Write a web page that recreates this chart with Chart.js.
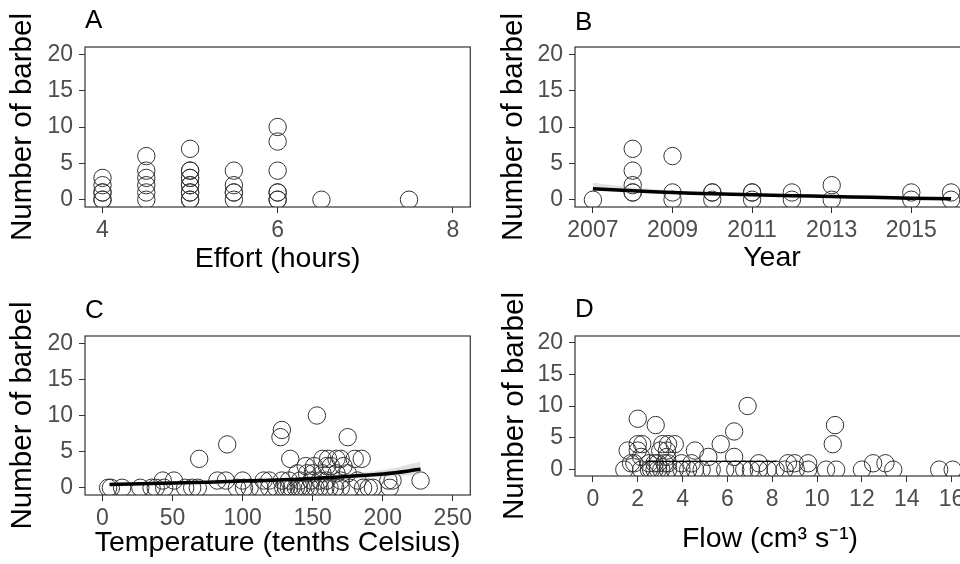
<!DOCTYPE html>
<html>
<head>
<meta charset="utf-8">
<script src="https://cdn.jsdelivr.net/npm/chart.js@4/dist/chart.umd.min.js"></script>
<style>
  body { margin: 0; width: 960px; height: 564px; overflow: hidden; background: #fff; position: relative; }
  canvas { position: absolute; }
</style>
</head>
<body>
<canvas id="chartA" width="480" height="282" style="left:0;top:0"></canvas>
<canvas id="chartB" width="500" height="282" style="left:480px;top:0"></canvas>
<canvas id="chartC" width="480" height="282" style="left:0;top:282px"></canvas>
<canvas id="chartD" width="500" height="282" style="left:480px;top:282px"></canvas>
<script>
// shared y axis
var countTicks = [0, 5, 10, 15, 20];

// A - effort
var effortHours = [4,4,4,4,4,4, 4.5,4.5,4.5,4.5,4.5,4.5, 5,5,5,5,5,5,5,5,5,5,5, 5.5,5.5,5.5,5.5,5.5, 6,6,6,6,6,6,6, 6.5, 7.5];
var barbelA     = [0,1,2,3,0,1, 0,1,2,3,4,6, 0,1,2,3,4,7,0,1,2,3,4, 0,1,2,4,1, 0,1,4,8,10,0,1, 0, 0];
var effortTicks = [4, 6, 8];

// B - year
var yearB   = [2007, 2008,2008,2008,2008,2008, 2009,2009,2009, 2010,2010,2010, 2011,2011,2011, 2012,2012, 2013,2013, 2015,2015, 2016,2016];
var barbelB = [0, 1,1,2,4,7, 0,1,6, 0,1,1, 0,1,1, 0,1, 0,2, 0,1, 0,1];
var yearTicks = [2007, 2009, 2011, 2013, 2015];
var yearFit  = [2007, 2008, 2009, 2010, 2011, 2012, 2013, 2014, 2015, 2016];
var fitB     = [1.5, 1.22, 1.0, 0.82, 0.68, 0.56, 0.45, 0.33, 0.22, 0.14];
var fitBHigh = [2.35, 1.7, 1.25, 0.98, 0.82, 0.7, 0.6, 0.5, 0.42, 0.36];
var fitBLow  = [1.25, 1.05, 0.9, 0.75, 0.62, 0.5, 0.38, 0.26, 0.15, 0.06];

// C - temperature
var tempC = [89,69,128,127,153,175,134,185,180,157,161,167,170,
  145,151,163,172,160,
  139,146,157,167,175,150,
  43,51,82,88,100,115,119,128,133,141,149,170,182,204,207,227,160,155,
  4,6,14,27,35,38,44,59,64,68,96,101,105,112,119,124,129,131,133,135,138,140,142,145,148,152,155,159,162,166,170,177,186,190,193,205];
var barbelC = [6,4,8,7,10,7,4,4,4,4,4,4,4,
  3,3,3,3,3,
  2,2,2,2,2,2,
  1,1,1,1,1,1,1,1,1,1,1,1,1,1,1,1,1,1,
  0,0,0,0,0,0,0,0,0,0,0,0,0,0,0,0,0,0,0,0,0,0,0,0,0,0,0,0,0,0,0,0,0,0,0,0];
var tempTicks = [0, 50, 100, 150, 200, 250];
var tempFit  = [5, 50, 100, 150, 200, 227];
var fitC     = [0.47, 0.66, 0.92, 1.3, 1.9, 2.55];
var fitCHigh = [0.7, 0.8, 1.05, 1.5, 2.45, 3.6];
var fitCLow  = [0.3, 0.5, 0.8, 1.15, 1.5, 1.85];

// D - flow
var flowD = [2.0,2.8,6.9,6.3,5.7,10.8,10.7,
  2.0,2.2,3.1,3.35,3.65,
  1.55,2.0,3.0,3.3,4.55,
  2.15,3.3,5.15,6.3,
  1.7,1.85,2.75,3.35,3.95,4.4,7.4,8.7,9.0,9.6,12.5,13.05,2.5,2.9,3.2,
  1.4,2.15,2.5,2.75,3.05,3.35,3.65,3.95,4.25,4.55,4.85,5.3,5.9,6.35,6.75,7.05,7.4,7.8,8.15,8.55,9.05,9.6,10.4,10.85,12.0,13.4,15.45,16.05,2.6,2.9];
var barbelD = [8,7,10,6,4,7,4,
  4,4,4,4,4,
  3,3,3,3,3,
  2,2,2,2,
  1,1,1,1,1,1,1,1,1,1,1,1,1,1,1,
  0,0,0,0,0,0,0,0,0,0,0,0,0,0,0,0,0,0,0,0,0,0,0,0,0,0,0,0,0,0];
var flowTicks = [0, 2, 4, 6, 8, 10, 12, 14, 16];
var flowFit = [2.4, 8.2];
var fitD    = [1.3, 1.3];

var FONT = 'Liberation Sans, Arial, sans-serif';
Chart.defaults.font.family = FONT;

function pts(xs, ys) {
  return xs.map(function (x, i) { return {x: x, y: ys[i]}; });
}

var panelBox = {
  id: 'panelBox',
  afterDatasetsDraw: function (chart) {
    var a = chart.chartArea, c = chart.ctx;
    c.save();
    c.strokeStyle = '#333';
    c.lineWidth = 1.2;
    c.strokeRect(a.left, a.top, a.right - a.left, a.bottom - a.top);
    c.restore();
  }
};

function scatterSet(xs, ys) {
  return {
    type: 'scatter', data: pts(xs, ys),
    pointRadius: 8.7, pointBorderWidth: 1, pointBorderColor: '#333',
    pointBackgroundColor: 'rgba(0,0,0,0)'
  };
}

function fitSets(xs, fit, high, low, width) {
  var sets = [{
    type: 'line', data: pts(xs, fit), borderColor: '#000', borderWidth: width,
    pointRadius: 0, tension: 0.3, fill: false
  }];
  if (high) {
    sets.push({type: 'line', data: pts(xs, high), borderWidth: 0, pointRadius: 0, tension: 0.3,
      backgroundColor: 'rgba(170,170,170,0.35)', fill: '+1'});
    sets.push({type: 'line', data: pts(xs, low), borderWidth: 0, pointRadius: 0, tension: 0.3, fill: false});
  }
  return sets;
}

function makePanel(id, p) {
  var tickGrid = {drawOnChartArea: false, drawTicks: true, tickLength: 6, color: '#333', lineWidth: 1};
  new Chart(document.getElementById(id), {
    type: 'scatter',
    data: {datasets: p.datasets},
    plugins: [panelBox],
    options: {
      responsive: false,
      animation: false,
      layout: {padding: {left: 0, right: p.rightPad, top: 0, bottom: 0}},
      plugins: {
        legend: {display: false},
        tooltip: {enabled: false},
        title: {
          display: true, text: p.letter, align: 'start', fullSize: false, color: '#000',
          font: {size: 26, weight: 'normal'}, padding: {top: p.letterTop, bottom: p.letterBottom}
        }
      },
      scales: {
        x: {
          type: 'linear', min: p.xMin, max: p.xMax,
          afterBuildTicks: function (s) { s.ticks = p.xTicks.map(function (v) { return {value: v}; }); },
          afterFit: function (s) { s.height = p.xAxisHeight; s.paddingLeft = 0; s.paddingRight = 0; },
          grid: tickGrid,
          border: {display: false},
          ticks: {color: '#4d4d4d', font: {size: 23}, padding: 4, maxRotation: 0, autoSkip: false,
            callback: function (v) { return String(v); }},
          title: {display: true, text: p.xTitle, color: '#000', font: {size: 28.5},
            padding: {top: 0, bottom: p.xTitlePad}}
        },
        y: {
          type: 'linear', min: -1, max: 21,
          afterBuildTicks: function (s) { s.ticks = countTicks.map(function (v) { return {value: v}; }); },
          afterFit: function (s) { s.width = p.yAxisWidth; s.paddingTop = 0; s.paddingBottom = 0; },
          grid: tickGrid,
          border: {display: false},
          ticks: {color: '#4d4d4d', font: {size: 23}, padding: 6,
            callback: function (v) { return String(v); }},
          title: {display: true, text: 'Number of barbel', color: '#000', font: {size: 29.5},
            padding: {top: p.yTitlePad, bottom: 0}}
        }
      }
    }
  });
}

makePanel('chartA', {
  letter: 'A', letterTop: 5.4, letterBottom: 10.4,
  xTitle: 'Effort (hours)', xMin: 3.8, xMax: 8.2, xTicks: effortTicks,
  xAxisHeight: 75, yAxisWidth: 85, rightPad: 2, xTitlePad: 6, yTitlePad: 5.3,
  datasets: [scatterSet(effortHours, barbelA)]
});

makePanel('chartB', {
  letter: 'B', letterTop: 6.9, letterBottom: 8.9,
  xTitle: 'Year', xMin: 2006.55, xMax: 2016.45, xTicks: yearTicks,
  xAxisHeight: 75, yAxisWidth: 95, rightPad: 11, xTitlePad: 7, yTitlePad: 16.3,
  datasets: fitSets(yearFit, fitB, fitBHigh, fitBLow, 3.5).concat([scatterSet(yearB, barbelB)])
});

makePanel('chartC', {
  letter: 'C', letterTop: 13.6, letterBottom: 9.2,
  xTitle: 'Temperature (tenths Celsius)', xMin: -12.5, xMax: 262.5, xTicks: tempTicks,
  xAxisHeight: 69, yAxisWidth: 85, rightPad: 1, xTitlePad: 3.5, yTitlePad: 5.3,
  datasets: fitSets(tempFit, fitC, fitCHigh, fitCLow, 3.5).concat([scatterSet(tempC, barbelC)])
});

makePanel('chartD', {
  letter: 'D', letterTop: 11.9, letterBottom: 10.9,
  xTitle: 'Flow (cm\u00b3 s\u207b\u00b9)', xMin: -0.8, xMax: 16.6, xTicks: flowTicks,
  xAxisHeight: 88, yAxisWidth: 95, rightPad: 15, xTitlePad: 7.5, yTitlePad: 17.3,
  datasets: fitSets(flowFit, fitD, null, null, 1.2).concat([scatterSet(flowD, barbelD)])
});
</script>
</body>
</html>
